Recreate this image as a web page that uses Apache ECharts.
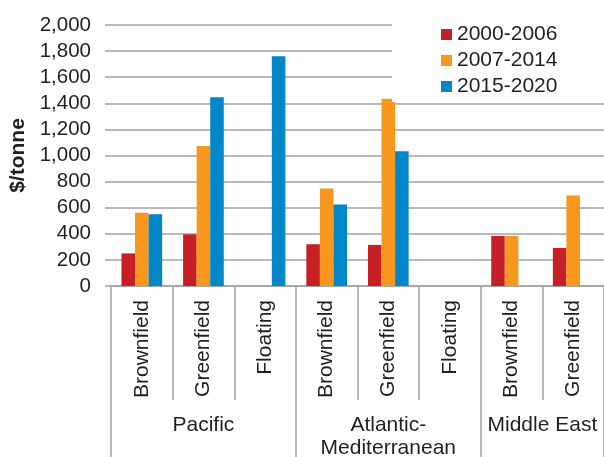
<!DOCTYPE html>
<html>
<head>
<meta charset="utf-8">
<script src="https://cdn.jsdelivr.net/npm/echarts@6/dist/echarts.min.js"></script>
<style>
html,body{margin:0;padding:0;background:#fff;}
#c{width:604px;height:457px;}
</style>
</head>
<body>
<div id="c"></div>
<script>
const categories = ['Brownfield','Greenfield','Floating','Brownfield','Greenfield','Floating','Brownfield','Greenfield'];
const groupNames = ['Pacific','Atlantic-\nMediterranean','Middle East'];
const groupStarts = [0, 3, 6, 8];
const groupCenters = [1.5, 4.5, 7];
const seriesNames = ['2000-2006','2007-2014','2015-2020'];
const s2000 = [250, 396, null, 320, 315, null, 384, 292];
const s2007 = [561, 1073, null, 748, 1434, null, 384, 694];
const s2015 = [550, 1447, 1760, 625, 1032, null, null, null];
const yTicks = [0, 200, 400, 600, 800, 1000, 1200, 1400, 1600, 1800, 2000];

const colors = ['#c71f26', '#f7971e', '#0086c9'];
const txt = '#231f20';
const gridCol = '#a3a3a3';
const FONT = 'Liberation Sans';

const chart = echarts.init(document.getElementById('c'));
chart.setOption({
  animation: false,
  textStyle: { fontFamily: FONT },
  grid: { left: 111, right: 0, top: 25, bottom: 171, containLabel: false, outerBoundsMode: 'none' },
  legend: {
    orient: 'vertical',
    left: 392, top: 14,
    padding: [10, 50, 5, 49],
    backgroundColor: '#ffffff',
    itemWidth: 11, itemHeight: 11, itemGap: 5,
    icon: 'rect',
    textStyle: { fontSize: 21, color: txt, lineHeight: 21, fontFamily: FONT },
    data: seriesNames
  },
  xAxis: [
    {
      type: 'category',
      data: categories,
      axisLine: { show: true, lineStyle: { color: gridCol, width: 1.5 } },
      axisTick: { show: true, interval: 0, length: 114, lineStyle: { color: gridCol, width: 1.5 } },
      axisLabel: { interval: 0, rotate: 90, margin: 14, fontSize: 21, color: txt, fontFamily: FONT }
    },
    {
      type: 'value',
      position: 'bottom',
      min: 0, max: 8,
      axisLine: { show: false },
      splitLine: { show: false },
      axisTick: { show: true, customValues: groupStarts, length: 175, lineStyle: { color: gridCol, width: 1.5 } },
      axisLabel: {
        customValues: groupCenters,
        margin: 128,
        fontSize: 21, color: txt, fontFamily: FONT, lineHeight: 23,
        formatter: function (v) {
          const i = groupCenters.indexOf(v);
          return i >= 0 ? groupNames[i] : '';
        }
      }
    }
  ],
  yAxis: {
    type: 'value',
    min: 0, max: 2000, interval: 200,
    name: '$/tonne',
    nameLocation: 'middle',
    nameGap: 82,
    nameRotate: 90,
    nameTextStyle: { fontSize: 21, fontWeight: 'bold', color: txt, fontFamily: FONT },
    axisLine: { show: false },
    axisTick: { show: true, length: 6, lineStyle: { color: gridCol, width: 1.5 } },
    splitLine: { show: true, lineStyle: { color: gridCol, width: 1.5 } },
    axisLabel: {
      margin: 20, fontSize: 20.5, color: txt, fontFamily: FONT,
      formatter: function (v) { return v.toLocaleString('en-US'); }
    }
  },
  series: [
    { name: seriesNames[0], type: 'bar', data: s2000, itemStyle: { color: colors[0] }, barGap: '0%', barCategoryGap: '34%' },
    { name: seriesNames[1], type: 'bar', data: s2007, itemStyle: { color: colors[1] }, barGap: '0%', barCategoryGap: '34%' },
    { name: seriesNames[2], type: 'bar', data: s2015, itemStyle: { color: colors[2] }, barGap: '0%', barCategoryGap: '34%' }
  ]
});
</script>
</body>
</html>
